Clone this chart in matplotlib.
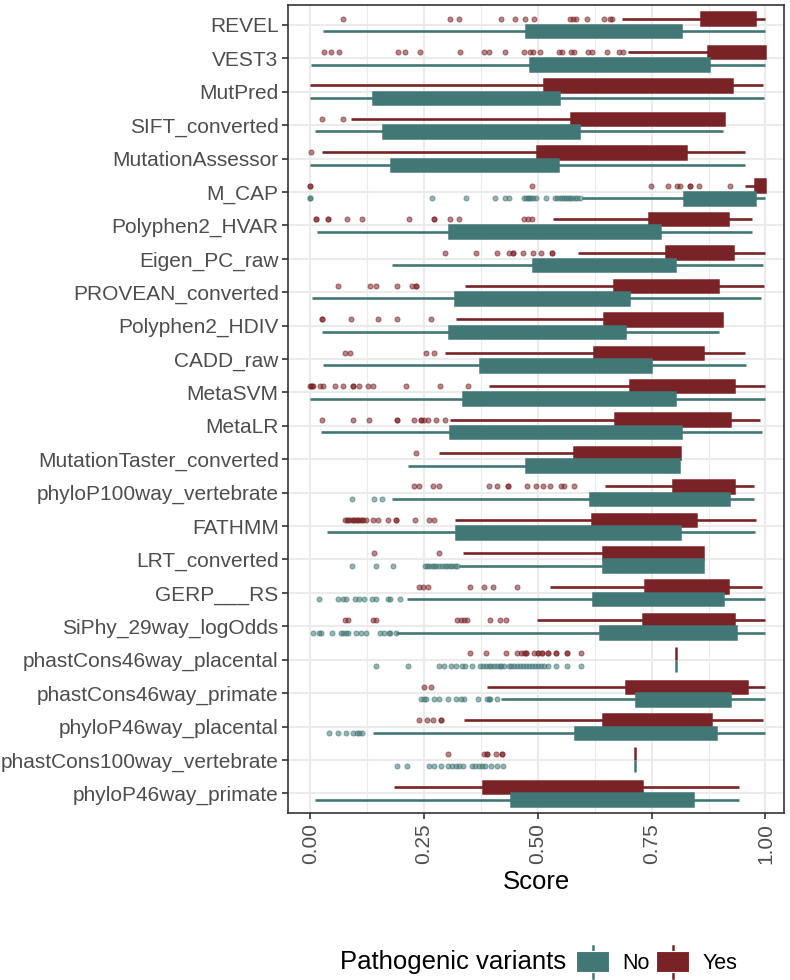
import matplotlib
matplotlib.use("Agg")
import matplotlib.pyplot as plt
from matplotlib.patches import Rectangle
from matplotlib.lines import Line2D
from matplotlib.legend_handler import HandlerBase
import numpy as np

plt.rcParams['font.family'] = ['Liberation Sans', 'DejaVu Sans']

predictors = ["REVEL", "VEST3", "MutPred", "SIFT_converted", "MutationAssessor", "M_CAP",
              "Polyphen2_HVAR", "Eigen_PC_raw", "PROVEAN_converted", "Polyphen2_HDIV",
              "CADD_raw", "MetaSVM", "MetaLR", "MutationTaster_converted",
              "phyloP100way_vertebrate", "FATHMM", "LRT_converted", "GERP___RS",
              "SiPhy_29way_logOdds", "phastCons46way_placental", "phastCons46way_primate",
              "phyloP46way_placental", "phastCons100way_vertebrate", "phyloP46way_primate"]

# Pathogenic = Yes : [whislo, q1, q3, whishi]
yes_stats = [
    [0.685, 0.859, 0.977, 0.998], [0.698, 0.874, 0.998, 0.998], [0.000, 0.513, 0.927, 0.995],
    [0.090, 0.573, 0.908, 0.908], [0.027, 0.499, 0.826, 0.956], [0.954, 0.977, 0.998, 0.998],
    [0.533, 0.744, 0.918, 0.971], [0.588, 0.781, 0.928, 0.998], [0.339, 0.667, 0.896, 0.997],
    [0.320, 0.646, 0.905, 0.905], [0.295, 0.623, 0.863, 0.954], [0.393, 0.703, 0.930, 0.998],
    [0.308, 0.670, 0.923, 0.988], [0.284, 0.580, 0.812, 0.812], [0.647, 0.797, 0.930, 0.974],
    [0.318, 0.618, 0.848, 0.980], [0.335, 0.643, 0.863, 0.863], [0.527, 0.735, 0.917, 0.993],
    [0.498, 0.730, 0.930, 0.998], [0.803, 0.803, 0.803, 0.803], [0.388, 0.694, 0.960, 0.998],
    [0.337, 0.643, 0.881, 0.995], [0.714, 0.714, 0.714, 0.714], [0.185, 0.380, 0.729, 0.942],
]
# Pathogenic = No : [whislo, q1, q3, whishi]
no_stats = [
    [0.029, 0.474, 0.815, 0.998], [0.002, 0.482, 0.876, 0.998], [0.000, 0.137, 0.546, 0.997],
    [0.010, 0.159, 0.590, 0.906], [0.000, 0.178, 0.544, 0.956], [0.597, 0.821, 0.976, 0.998],
    [0.014, 0.305, 0.768, 0.971], [0.180, 0.489, 0.802, 0.995], [0.005, 0.319, 0.700, 0.991],
    [0.027, 0.305, 0.692, 0.899], [0.029, 0.372, 0.749, 0.958], [0.000, 0.336, 0.801, 0.998],
    [0.024, 0.308, 0.815, 0.993], [0.214, 0.474, 0.810, 0.810], [0.179, 0.615, 0.919, 0.974],
    [0.037, 0.321, 0.812, 0.978], [0.326, 0.643, 0.863, 0.863], [0.212, 0.621, 0.907, 0.998],
    [0.189, 0.636, 0.936, 0.998], [0.803, 0.803, 0.803, 0.803], [0.420, 0.716, 0.922, 0.998],
    [0.137, 0.581, 0.892, 0.998], [0.714, 0.714, 0.714, 0.714], [0.011, 0.440, 0.841, 0.942],
]

yes_outliers = [
    [0.071, 0.306, 0.327, 0.418, 0.449, 0.471, 0.491, 0.571, 0.577, 0.584, 0.608, 0.646, 0.658, 0.664],
    [0.031, 0.045, 0.063, 0.193, 0.209, 0.241, 0.329, 0.381, 0.393, 0.427, 0.470, 0.482, 0.489, 0.505,
     0.546, 0.554, 0.573, 0.580, 0.610, 0.620, 0.652, 0.678, 0.687],
    [],
    [0.025, 0.073],
    [0.002],
    [0.0, 0.0, 0.487, 0.749, 0.786, 0.806, 0.812, 0.835, 0.835, 0.854, 0.923],
    [0.012, 0.012, 0.040, 0.040, 0.081, 0.113, 0.217, 0.273, 0.273, 0.307, 0.326, 0.469, 0.478, 0.487],
    [0.297, 0.364, 0.410, 0.436, 0.445, 0.445, 0.467, 0.489, 0.508, 0.531, 0.531],
    [0.062, 0.132, 0.144, 0.190, 0.224, 0.233, 0.233],
    [0.026, 0.026, 0.090, 0.148, 0.190, 0.266],
    [0.077, 0.088, 0.254, 0.272],
    [0.000, 0.002, 0.005, 0.007, 0.022, 0.029, 0.055, 0.071, 0.094, 0.094, 0.108, 0.127, 0.138,
     0.210, 0.286, 0.347],
    [0.026, 0.094, 0.130, 0.190, 0.190, 0.227, 0.244, 0.244, 0.249, 0.259, 0.276, 0.297],
    [0.232],
    [0.229, 0.238, 0.269, 0.282, 0.393, 0.410, 0.434, 0.434, 0.477, 0.496, 0.511, 0.527, 0.550, 0.557, 0.580],
    [0.077, 0.080, 0.082, 0.088, 0.093, 0.095, 0.099, 0.103, 0.106, 0.110, 0.113, 0.117, 0.123,
     0.139, 0.149, 0.170, 0.189, 0.189, 0.231, 0.260, 0.273],
    [0.141, 0.284],
    [0.240, 0.247, 0.259, 0.352, 0.381, 0.401, 0.455],
    [0.077, 0.082, 0.139, 0.145, 0.322, 0.331, 0.337, 0.344, 0.396, 0.416, 0.429],
    [0.350, 0.387, 0.429, 0.454, 0.462, 0.469, 0.475, 0.475, 0.491, 0.500, 0.500, 0.509, 0.509,
     0.522, 0.522, 0.540, 0.540, 0.565, 0.565, 0.594],
    [0.251, 0.265],
    [0.240, 0.256, 0.270, 0.287, 0.287],
    [0.303, 0.381, 0.388, 0.388, 0.408, 0.422, 0.422],
    [],
]

no_outliers = [
    [], [], [], [], [],
    [0.0, 0.0, 0.267, 0.342, 0.406, 0.427, 0.436, 0.469, 0.474, 0.478, 0.481, 0.485, 0.490, 0.495,
     0.519, 0.538, 0.543, 0.548, 0.552, 0.557, 0.562, 0.567, 0.571, 0.576, 0.581, 0.586, 0.593],
    [], [], [], [], [], [], [], [],
    [0.092, 0.141, 0.158],
    [],
    [0.092, 0.144, 0.181, 0.253, 0.257, 0.262, 0.267, 0.272, 0.277, 0.283, 0.289, 0.295, 0.301,
     0.306, 0.312, 0.317, 0.322],
    [0.020, 0.061, 0.073, 0.079, 0.099, 0.108, 0.119, 0.136, 0.145, 0.170, 0.176, 0.198],
    [0.006, 0.020, 0.024, 0.048, 0.067, 0.073, 0.079, 0.084, 0.100, 0.112, 0.123, 0.154, 0.161,
     0.172, 0.176, 0.189],
    [0.144, 0.215, 0.284, 0.293, 0.310, 0.320, 0.333, 0.341, 0.355, 0.374, 0.380, 0.386, 0.392,
     0.398, 0.404, 0.410, 0.416, 0.420, 0.425, 0.436, 0.442, 0.448, 0.455, 0.461, 0.468, 0.474,
     0.480, 0.487, 0.493, 0.500, 0.506, 0.513, 0.522, 0.540, 0.565, 0.594],
    [0.243, 0.249, 0.254, 0.273, 0.284, 0.303, 0.320, 0.332, 0.337, 0.368, 0.388, 0.393, 0.396, 0.410],
    [0.041, 0.061, 0.078, 0.094, 0.103, 0.108, 0.114],
    [0.190, 0.212, 0.260, 0.271, 0.287, 0.302, 0.311, 0.320, 0.326, 0.336, 0.355, 0.363, 0.370,
     0.377, 0.385, 0.397, 0.410, 0.423],
    [],
]

groups = ["No", "Yes"]
colors = {"No": "#417775", "Yes": "#7a2326"}
x_ticks = [0.00, 0.25, 0.50, 0.75, 1.00]
x_ticklabels = ["0.00", "0.25", "0.50", "0.75", "1.00"]

fig = plt.figure(figsize=(7.9, 9.8), dpi=100)
ax = fig.add_axes([0.365, 0.170, 0.627, 0.825])

n = len(predictors)
ypos = np.arange(n, 0, -1)  # first predictor at top
dodge = 0.1875
width = 0.375


def make_stats(stats, outs):
    res = []
    for s, o in zip(stats, outs):
        res.append(dict(whislo=s[0], q1=s[1], med=s[1], q3=s[2], whishi=s[3], fliers=o))
    return res


for grp, stats, outs, off in [("Yes", yes_stats, yes_outliers, dodge),
                               ("No", no_stats, no_outliers, -dodge)]:
    c = colors[grp]
    ax.bxp(make_stats(stats, outs), positions=ypos + off, widths=width, vert=False,
           patch_artist=True, showcaps=False, manage_ticks=False,
           boxprops=dict(facecolor=c, edgecolor=c, linewidth=1.8),
           whiskerprops=dict(color=c, linewidth=1.9, solid_capstyle='butt'),
           medianprops=dict(visible=False),
           flierprops=dict(marker='o', markerfacecolor=c, markeredgecolor=c,
                           markersize=3.6, alpha=0.55, markeredgewidth=0.8),
           zorder=3)

ax.set_xlim(-0.048, 1.04)
ax.set_ylim(0.4, n + 0.6)
ax.set_yticks(ypos)
ax.set_yticklabels(predictors)
ax.set_xticks(x_ticks)
ax.set_xticklabels(x_ticklabels, rotation=90)
ax.set_xticks([0.125, 0.375, 0.625, 0.875], minor=True)
ax.tick_params(axis='y', which='major', labelsize=15, labelcolor='#4d4d4d',
               length=4, width=1.2, color='#333333', pad=3)
ax.tick_params(axis='x', which='major', labelsize=15, labelcolor='#4d4d4d',
               length=4, width=1.2, color='#333333', pad=3)
ax.tick_params(axis='x', which='minor', length=0)
ax.grid(True, which='major', color='#ebebeb', linewidth=1.5, zorder=0)
ax.grid(True, which='minor', axis='x', color='#ebebeb', linewidth=0.8, zorder=0)
ax.set_axisbelow(True)
for sp in ax.spines.values():
    sp.set_color('#333333')
    sp.set_linewidth(1.2)
ax.set_xlabel("Score", fontsize=18.5, labelpad=4)


class BoxKeyHandler(HandlerBase):
    def create_artists(self, legend, orig_handle, xdescent, ydescent, width, height,
                       fontsize, trans):
        c = orig_handle.get_facecolor()
        r = Rectangle((-xdescent, -ydescent + 0.11 * height), width, height * 0.78,
                      facecolor=c, edgecolor='white', linewidth=0.8, transform=trans)
        l = Line2D([-xdescent + width / 2] * 2, [-ydescent - 0.08 * height, -ydescent + 1.08 * height],
                   color=c, linewidth=1.8, transform=trans)
        return [l, r]


handles = [Rectangle((0, 0), 1, 1, facecolor=colors[g]) for g in groups]
fig.text(0.430, 0.018, "Pathogenic variants", fontsize=18.5, ha='left', va='center')
fig.legend(handles, groups, loc='center left', bbox_to_anchor=(0.729, 0.0185), ncol=2,
           frameon=False, fontsize=15.5, handler_map={Rectangle: BoxKeyHandler()},
           handlelength=1.55, handleheight=1.55, handletextpad=0.6, columnspacing=0.3,
           borderpad=0.0, borderaxespad=0.0)

fig.savefig("out.png", dpi=100)
